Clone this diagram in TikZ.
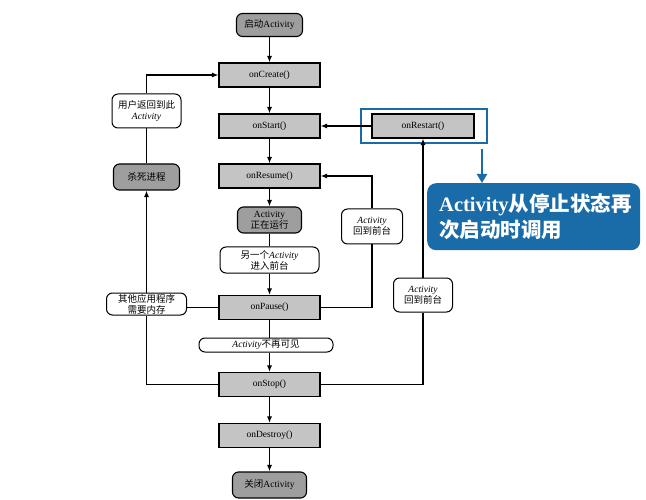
\documentclass[tikz,border=0pt]{standalone}
\usepackage{fontspec}
\setmainfont{Liberation Serif}
\newfontfamily\cjk{Noto Sans CJK SC}
\usetikzlibrary{arrows.meta,calc}
\definecolor{boxgray}{RGB}{196,196,196}
\definecolor{darkgray}{RGB}{158,158,158}
\definecolor{blueframe}{RGB}{26,108,168}
\begin{document}
\begin{tikzpicture}[x=1pt,y=-1pt,font=\fontsize{9.5}{11}\selectfont,
  rectbox/.style={draw,line width=1.1pt,fill=boxgray,minimum width=101pt,minimum height=24pt,inner sep=0pt},
  darkround/.style={draw,line width=1.1pt,fill=darkgray,rounded corners=6pt,inner sep=0pt,align=center},
  whiteround/.style={draw,line width=1pt,fill=white,rounded corners=6pt,inner sep=0pt,align=center},
  arr/.style={-{Latex[length=6.5pt,width=5pt]},line width=1.1pt},
  ln/.style={line width=1.1pt}]
\useasboundingbox (0,0) rectangle (646,500);
% main column
\node[darkround,minimum width=66pt,minimum height=23pt] (start) at (269.5,25) {{\cjk 启动}Activity};
\node[rectbox] (create) at (269.5,75) {onCreate()};
\node[rectbox] (startm) at (269.5,126) {onStart()};
\node[rectbox] (resume) at (269.5,176) {onResume()};
\node[darkround,minimum width=64pt,minimum height=26pt] (run) at (269.5,220) {Activity\\{\cjk 正在运行}};
\node[whiteround,minimum width=99pt,minimum height=26pt] (other) at (269.5,260) {{\cjk 另一个}\textit{Activity}\\{\cjk 进入前台}};
\node[rectbox] (pause) at (269.5,307.5) {onPause()};
\node[whiteround,minimum width=134pt,minimum height=14pt] (invis) at (266,345) {\textit{Activity}{\cjk 不再可见}};
\node[rectbox] (stop) at (269.5,384.5) {onStop()};
\node[rectbox] (destroy) at (269.5,435.5) {onDestroy()};
\node[darkround,minimum width=74pt,minimum height=26pt] (close) at (269.5,485) {{\cjk 关闭}Activity};
% left column
\node[whiteround,minimum width=69pt,minimum height=34pt] (back) at (146.5,111) {{\cjk 用户返回到此}\\\textit{Activity}};
\node[darkround,minimum width=66pt,minimum height=26pt] (kill) at (146.5,177) {{\cjk 杀死进程}};
\node[whiteround,minimum width=80pt,minimum height=22pt] (mem) at (146.5,304) {{\cjk 其他应用程序}\\{\cjk 需要内存}};
% right column
\node[rectbox,minimum width=102pt] (restart) at (423,126) {onRestart()};
\node[draw=blueframe,line width=1.3pt,minimum width=126pt,minimum height=34pt,inner sep=0pt] (frame) at (424,126) {};
\node[whiteround,minimum width=61pt,minimum height=35pt] (fg1) at (372,226.5) {\textit{Activity}\\{\cjk 回到前台}};
\node[whiteround,minimum width=59pt,minimum height=34pt] (fg2) at (423,295) {\textit{Activity}\\{\cjk 回到前台}};
\node[fill=blueframe,rounded corners=9pt,minimum width=213pt,minimum height=67pt,inner sep=0pt,anchor=north west] (callout) at (427,183) {};
\node[anchor=west,text=white,align=left,inner sep=0pt,font=\fontsize{20.5}{26}\selectfont\bfseries] (callouttext) at (439,216.5) {Activity{\cjk 从停止状态再}\\{\cjk 次启动时调用}};
\coordinate (bluetop) at (482,149);
% connectors main
\draw[arr] (start) -- (create);
\draw[arr] (create) -- (startm);
\draw[arr] (startm) -- (resume);
\draw[arr] (resume) -- (run);
\draw[ln] (run) -- (other);
\draw[arr] (other) -- (pause);
\draw[ln] (pause.south) -- (pause.south |- invis.north);
\draw[arr] (pause.south |- invis.south) -- (stop.north);
\draw[arr] (stop) -- (destroy);
\draw[arr] (destroy) -- (close);
% connectors left
\draw[ln] (kill) -- (back);
\draw[arr] (back.north) |- (create.west);
\draw[ln] (pause.west) -- (pause.west -| mem.east);
\draw[ln] (stop.west) -| (mem.south);
\draw[arr] (mem.north) -- (kill.south);
% connectors right
\draw[arr] (restart.west) -- (startm.east);
\draw[ln] (pause.east) -| (fg1.south);
\draw[arr] (fg1.north) |- (resume.east);
\draw[ln] (stop.east) -| (fg2.south);
\draw[arr] (fg2.north) -- (restart.south);
\draw[-{Triangle[length=9pt,width=10pt]},blueframe,line width=2.2pt] (bluetop) -- (bluetop |- callout.north);
\end{tikzpicture}
\end{document}
